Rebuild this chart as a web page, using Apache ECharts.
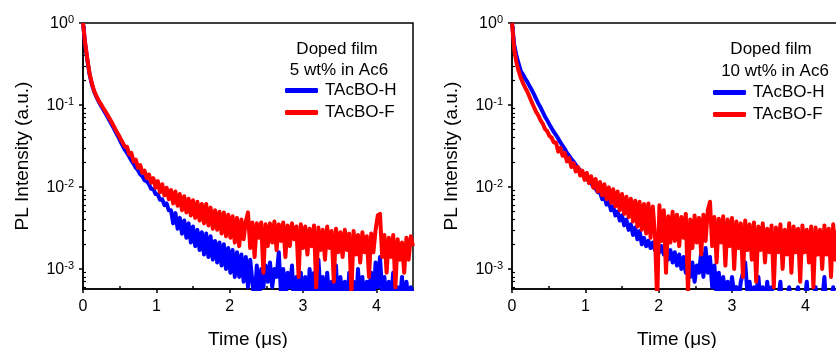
<!DOCTYPE html>
<html><head><meta charset="utf-8">
<script src="https://cdn.jsdelivr.net/npm/echarts@6/dist/echarts.min.js"></script>
<style>html,body{margin:0;padding:0;background:#fff}#c{width:836px;height:348px}</style>
</head><body><div id="c"></div>
<script>
const time = [0,.03,.06,.09,.12,.15,.18,.21,.24,.27,.3,.33,.36,.39,.42,.45,.48,.51,.54,.57,
.6,.63,.66,.69,.72,.75,.78,.81,.84,.87,.9,.93,.96,.99,1.02,1.05,1.08,1.11,1.14,1.17,
1.2,1.23,1.26,1.29,1.32,1.35,1.38,1.41,1.44,1.47,1.5,1.53,1.56,1.59,1.62,1.65,1.68,1.71,1.74,1.77,
1.8,1.83,1.86,1.89,1.92,1.95,1.98,2.01,2.04,2.07,2.1,2.13,2.16,2.19,2.22,2.25,2.28,2.31,2.34,2.37,
2.4,2.43,2.46,2.49,2.52,2.55,2.58,2.61,2.64,2.67,2.7,2.73,2.76,2.79,2.82,2.85,2.88,2.91,2.94,2.97,
3,3.03,3.06,3.09,3.12,3.15,3.18,3.21,3.24,3.27,3.3,3.33,3.36,3.39,3.42,3.45,3.48,3.51,3.54,3.57,
3.6,3.63,3.66,3.69,3.72,3.75,3.78,3.81,3.84,3.87,3.9,3.93,3.96,3.99,4.02,4.05,4.08,4.11,4.14,4.17,
4.2,4.23,4.26,4.29,4.32,4.35,4.38,4.41,4.44,4.47,4.5];

// 5 wt% in Ac6
const h5 = [1,.55,.35,.235,.18,.147,.127,.112,.1,.09,.081,.073,.065,.058,.052,.046,.041,.036,.032,.0285,
.026,.0235,.021,.0192,.0172,.016,.0143,.0135,.0121,.0117,.0108,.0095,.0094,.0082,.0081,.007,.0071,.006,.0063,.0052,
.0052,.0036,.0048,.0031,.0042,.0027,.0039,.0024,.0036,.0021,.0033,.0019,.003,.0017,.0028,.0015,.0027,.0014,.0025,.0013,
.0022,.0012,.0021,.0011,.002,.001,.0018,.0009,.0017,.0008,.0016,.0008,.0015,.0007,.0014,.0006,.0013,.0007,.0004,.0011,
.0004,.001,.0006,.0011,.0007,.0012,.0006,.001,.0008,.0016,.0005,.001,.0004,.0009,.0006,.0011,.0003,.0008,.0005,.0009,
.0004,.0008,.0003,.001,.0005,.0009,.0004,.0013,.0005,.0008,.0003,.0009,.0004,.0007,.0005,.0011,.0003,.0008,.0004,.0007,
.0003,.0009,.0005,.0007,.0003,.001,.0004,.0008,.0003,.0007,.0005,.0009,.0004,.0012,.0006,.0014,.0005,.0008,.0003,.0007,
.0004,.0009,.0003,.0006,.0004,.0008,.0003,.0007,.0004,.0006,.0005];
const f5 = [1,.56,.36,.24,.185,.15,.13,.115,.104,.094,.085,.077,.069,.062,.055,.049,.044,.039,.035,.031,
.031,.025,.026,.0205,.0215,.0172,.0185,.0148,.0158,.0128,.0142,.0113,.0128,.0098,.0118,.0086,.0108,.0079,.0098,.0071,
.0092,.0063,.0088,.0059,.0082,.0052,.0077,.0049,.0072,.0045,.0069,.0042,.0066,.0039,.0062,.0036,.0062,.0034,.0056,.0031,
.0052,.003,.005,.0027,.0049,.0025,.0046,.0024,.0044,.0021,.0042,.0019,.004,.0023,.0038,.0049,.0018,.0037,.0014,.0036,
.0024,.0037,.0009,.0035,.0019,.0036,.0021,.0038,.0017,.0035,.0022,.0037,.0014,.0034,.0019,.0036,.0023,.0033,.0008,.0035,
.0018,.0033,.0015,.0031,.0019,.0034,.0006,.0032,.0017,.003,.0013,.0033,.0018,.0029,.0007,.0031,.0016,.0028,.0014,.003,
.0017,.0027,.0005,.0029,.0015,.0026,.0012,.0028,.0016,.0025,.0008,.0027,.0016,.003,.0045,.0047,.0014,.0026,.0009,.0024,
.0014,.0026,.0006,.0023,.0013,.0021,.0009,.0024,.0013,.0025,.0019];

// 10 wt% in Ac6
const h10 = [1,.55,.4,.32,.26,.235,.21,.19,.17,.152,.135,.118,.104,.093,.082,.072,.065,.058,.052,.047,
.043,.039,.035,.032,.029,.026,.024,.022,.0203,.0186,.0172,.0158,.0148,.0136,.0128,.0116,.0112,.01,.0096,.0086,
.0086,.0071,.0075,.0061,.0066,.0052,.0058,.0045,.005,.0039,.0045,.0034,.004,.003,.0035,.0026,.0032,.0023,.0029,.002,
.0024,.0019,.0022,.0018,.0021,.0017,.002,.0016,.0019,.0015,.0018,.0013,.0017,.0012,.0016,.0011,.0015,.001,.0014,.0009,
.0013,.0008,.0012,.0007,.0011,.0009,.0016,.0008,.0018,.0009,.0014,.0006,.0011,.0005,.0009,.0004,.0008,.0005,.0007,.0004,
.0008,.0005,.0006,.0004,.0007,.0009,.0012,.0005,.0007,.0004,.0006,.0005,.0008,.0004,.0006,.0003,.0007,.0004,.0006,.0003,
.0005,.0004,.0007,.0003,.0005,.0004,.0006,.0003,.0005,.0004,.0006,.0003,.0005,.0004,.0007,.0003,.0005,.0004,.0006,.0003,
.0005,.0004,.0008,.0003,.0005,.0004,.0006,.0003,.0005,.0004,.0005];
const f10 = [1,.48,.33,.26,.215,.185,.163,.145,.125,.108,.094,.082,.074,.065,.059,.051,.048,.042,.04,.035,
.035,.027,.03,.024,.026,.0205,.0225,.0175,.0195,.0155,.0175,.0138,.0158,.0122,.0148,.0112,.0135,.0098,.0125,.0088,
.0115,.0079,.0108,.0071,.0099,.0064,.0094,.0058,.0088,.0052,.0082,.0047,.0076,.0043,.0072,.0038,.0068,.0033,.0066,.003,
.0062,.0027,.0063,.0024,.0058,.0026,.0004,.006,.0022,.0052,.0009,.0044,.0021,.005,.0022,.0046,.0019,.0043,.0024,.0047,
.0005,.004,.0018,.0045,.0021,.0042,.0015,.0046,.0022,.0052,.0066,.0019,.0043,.0012,.0041,.0021,.0044,.0011,.004,.0019,
.0042,.001,.0038,.0018,.0036,.0008,.0039,.0017,.0035,.0013,.0037,.0007,.0033,.0017,.0036,.0012,.0031,.0016,.0034,.0006,
.0032,.0016,.0035,.001,.003,.0015,.0036,.0009,.0033,.0016,.0031,.0007,.0034,.0016,.003,.0012,.0033,.0006,.0032,.0015,
.003,.001,.0034,.0015,.0031,.0008,.0035,.0013,.0029,.0016,.003];

const seriesNames = ['TAcBO-H', 'TAcBO-F'];
const panelTitles = [['Doped film', '5 wt% in Ac6'], ['Doped film', '10 wt% in Ac6']];
const xMajor = [0, 1, 2, 3, 4];
const xMinor = [0.5, 1.5, 2.5, 3.5];
const yMajor = [0.001, 0.01, 0.1, 1];
const yMinor = [0.0006,0.0007,0.0008,0.0009,0.002,0.003,0.004,0.005,0.006,0.007,0.008,0.009,
  0.02,0.03,0.04,0.05,0.06,0.07,0.08,0.09,0.2,0.3,0.4,0.5,0.6,0.7,0.8,0.9];
const yMin = 0.00057, yMax = 1, xMin = 0, xMax = 4.5;

const FONT = 'Liberation Sans, Arial, sans-serif';
const BLUE = '#0000ff', RED = '#ff0000';
const pair = (vals) => time.map((t, i) => [t, vals[i]]);

const grids = [
  {left: 83, top: 23, width: 330, height: 266},
  {left: 512, top: 23, width: 330, height: 266}
];

const xAxes = [], yAxes = [];
grids.forEach((g, gi) => {
  xAxes.push({
    gridIndex: gi, type: 'value', min: xMin, max: xMax, position: 'bottom',
    axisLine: {lineStyle: {color: '#000', width: 1.5}},
    axisTick: {inside: false, length: 4, customValues: xMajor, lineStyle: {color: '#000', width: 1.5}},
    axisLabel: {customValues: xMajor, color: '#000', fontSize: 16, fontFamily: FONT, margin: 10},
    splitLine: {show: false},
    name: 'Time (\u03bcs)', nameLocation: 'middle', nameGap: 41,
    nameTextStyle: {color: '#000', fontSize: 19, fontFamily: FONT}
  });
  xAxes.push({
    gridIndex: gi, type: 'value', min: xMin, max: xMax, position: 'bottom',
    axisLine: {show: false},
    axisTick: {inside: true, length: 3, customValues: xMinor, lineStyle: {color: '#000', width: 1.5}},
    axisLabel: {show: false}, splitLine: {show: false}
  });
  yAxes.push({
    gridIndex: gi, type: 'log', logBase: 10, min: yMin, max: yMax, position: 'left',
    axisLine: {lineStyle: {color: '#000', width: 1.5}},
    axisTick: {inside: false, length: 4, customValues: yMajor, lineStyle: {color: '#000', width: 1.5}},
    axisLabel: {
      customValues: yMajor, margin: 9,
      formatter: (v) => '{b|10}{s|' + Math.round(Math.log10(v)) + '}',
      rich: {
        b: {fontSize: 16, fontFamily: FONT, color: '#000', lineHeight: 18, verticalAlign: 'bottom', padding: [3, 0, 0, 0]},
        s: {fontSize: 11, fontFamily: FONT, color: '#000', lineHeight: 11, verticalAlign: 'top'}
      }
    },
    splitLine: {show: false},
    name: 'PL Intensity (a.u.)', nameLocation: 'middle', nameGap: 51,
    nameTextStyle: {color: '#000', fontSize: 19, fontFamily: FONT}
  });
  yAxes.push({
    gridIndex: gi, type: 'log', logBase: 10, min: yMin, max: yMax, position: 'left',
    axisLine: {show: false},
    axisTick: {inside: true, length: 3, customValues: yMinor, lineStyle: {color: '#000', width: 1.2}},
    axisLabel: {show: false}, splitLine: {show: false}
  });
});

const dataSets = [[h5, f5], [h10, f10]];
const series = [];
dataSets.forEach((pairSet, gi) => {
  pairSet.forEach((vals, si) => {
    series.push({
      name: seriesNames[si], type: 'line', xAxisIndex: gi * 2, yAxisIndex: gi * 2,
      data: pair(vals), showSymbol: false, symbol: 'none', clip: true,
      lineStyle: {color: si === 0 ? BLUE : RED, width: 4, join: 'round'},
      itemStyle: {color: si === 0 ? BLUE : RED},
      animation: false
    });
  });
});

const legendPos = [{left: 285, top: 82}, {left: 713, top: 84}];
const legends = legendPos.map((p) => ({
  left: p.left, top: p.top, orient: 'vertical', padding: 0, itemGap: 5,
  itemWidth: 33, itemHeight: 5, icon: 'roundRect', data: seriesNames,
  textStyle: {fontSize: 17, fontFamily: FONT, color: '#000', lineHeight: 17, padding: [0, 0, 0, 2]}
}));

const titleCenters = [[337, 49, 339, 70], [771, 49, 775, 71]];
const graphics = [];
panelTitles.forEach((lines, gi) => {
  const c = titleCenters[gi];
  graphics.push({type: 'text', x: c[0], y: c[1], style: {text: lines[0], fill: '#000', font: '17px ' + FONT, textAlign: 'center', textVerticalAlign: 'middle'}});
  graphics.push({type: 'text', x: c[2], y: c[3], style: {text: lines[1], fill: '#000', font: '17px ' + FONT, textAlign: 'center', textVerticalAlign: 'middle'}});
});

const chart = echarts.init(document.getElementById('c'), null, {renderer: 'canvas'});
chart.setOption({
  animation: false,
  backgroundColor: '#fff',
  grid: grids.map(g => Object.assign({show: true, borderColor: '#000', borderWidth: 1.5, backgroundColor: 'transparent', outerBoundsMode: 'none', containLabel: false}, g)),
  xAxis: xAxes, yAxis: yAxes, series: series, legend: legends, graphic: graphics
});
</script></body></html>
